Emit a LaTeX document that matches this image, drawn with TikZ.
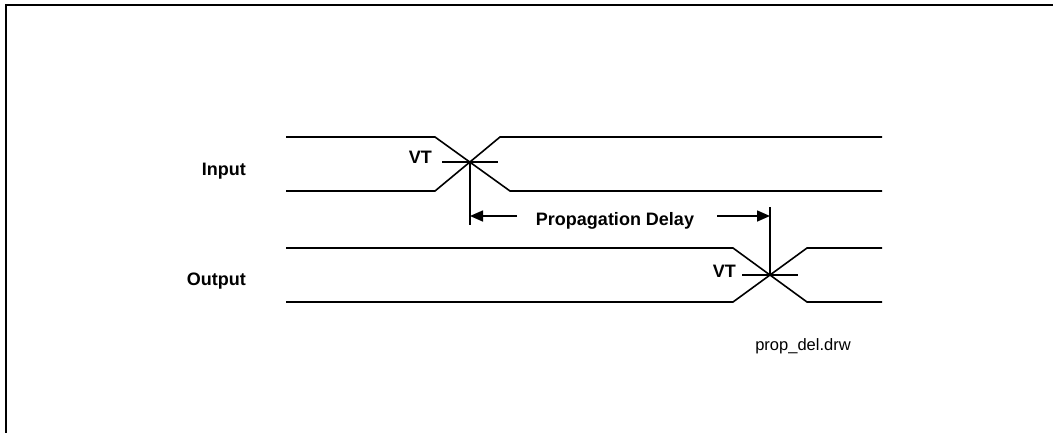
\documentclass[tikz,border=0pt]{standalone}
\usepackage{fontspec}
\setmainfont{Liberation Sans}
\usetikzlibrary{arrows.meta}
\begin{document}
\begin{tikzpicture}[x=1pt,y=-1pt,
  sig/.style={line width=1.6pt,line join=miter},
  frame/.style={line width=2pt},
  lbl/.style={font=\fontsize{18}{21}\selectfont\bfseries,inner sep=0pt},
  fname/.style={font=\fontsize{16.5}{19}\selectfont,inner sep=0pt},
  dimarrow/.style={line width=1.6pt,-{Triangle[length=13pt,width=11pt]}}]
\useasboundingbox (0,0) rectangle (1053,432);
\draw[frame] (6,440) -- (6,5) -- (1060,5);
% coordinates
\coordinate (ci) at (470,162);
\coordinate (co) at (770,275);
\coordinate (ai) at (470,216);
\coordinate (ao) at (770,216);
\coordinate (ail) at (517,216);
\coordinate (aor) at (717,216);
% input waveform
\draw[sig] (286,137) -- (435,137) -- (510,191) -- (882,191);
\draw[sig] (286,191) -- (435,191) -- (500,137) -- (882,137);
% output waveform
\draw[sig] (286,248) -- (733,248) -- (807,302) -- (882,302);
\draw[sig] (286,302) -- (733,302) -- (807,248) -- (882,248);
% VT lines
\draw[sig] (442,162) -- (498,162);
\draw[sig] (742,275) -- (798,275);
% vertical markers
\draw[sig] (ci) -- (470,225);
\draw[sig] (770,207) -- (co);
% arrows
\draw[dimarrow] (ail) -- (ai);
\draw[dimarrow] (aor) -- (ao);
% labels
\node[lbl,anchor=base east] (inlbl) at (246,175) {Input};
\node[lbl,anchor=base east] (outlbl) at (246,285) {Output};
\node[lbl,anchor=base east] (vti) at (432,163) {VT};
\node[lbl,anchor=base east] (vto) at (736,277) {VT};
\node[lbl,anchor=base] (pd) at (615,225) {Propagation Delay};
\node[fname,anchor=base] (fn) at (803,350) {prop\_del.drw};
\end{tikzpicture}
\end{document}
